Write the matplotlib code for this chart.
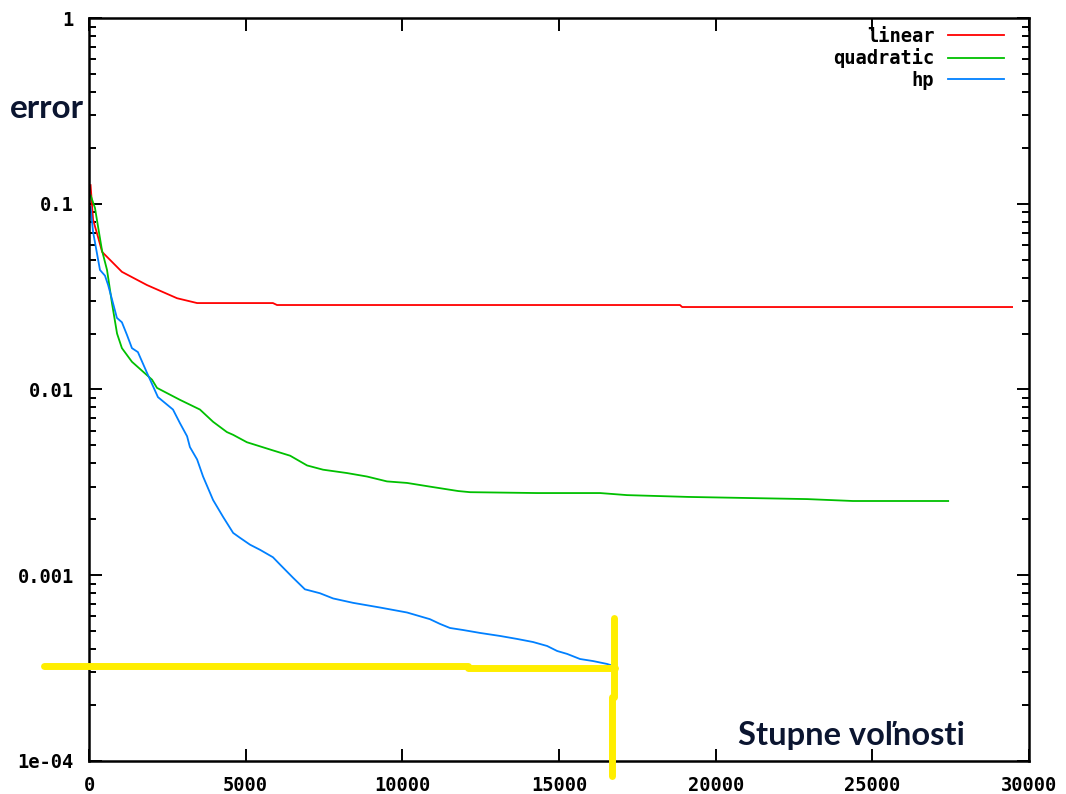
import matplotlib
matplotlib.use('Agg')
import matplotlib.pyplot as plt
from matplotlib.ticker import LogLocator, NullFormatter

# data
linear_x = [50, 130, 290, 420, 1050, 1850, 2810, 3450, 5870, 6000, 18860, 18930, 29460]
linear_y = [0.126, 0.082, 0.066, 0.055, 0.043, 0.0365, 0.031, 0.0292, 0.0292, 0.0285,
            0.0285, 0.0278, 0.0278]

quad_x = [50, 190, 290, 415, 575, 735, 895, 1050, 1370, 2010, 2170, 2900, 3540, 3960,
          4400, 4600, 5040, 5870, 6420, 6960, 7470, 8230, 8870, 9510, 10150, 10880,
          11780, 12160, 14300, 16310, 17170, 19120, 22920, 24380, 27420]
quad_y = [0.111, 0.095, 0.075, 0.056, 0.044, 0.029, 0.020, 0.0167, 0.0141, 0.0113,
          0.0102, 0.0088, 0.0078, 0.0067, 0.0059, 0.0057, 0.0052, 0.0047, 0.0044,
          0.0039, 0.0037, 0.00355, 0.0034, 0.0032, 0.00314, 0.0030, 0.00284, 0.0028,
          0.00277, 0.00277, 0.0027, 0.00264, 0.00257, 0.00251, 0.00251]

hp_x = [50, 130, 350, 510, 610, 770, 890, 1050, 1210, 1370, 1560, 1850, 2200, 2680,
        2900, 3130, 3220, 3450, 3640, 3960, 4280, 4600, 4820, 5140, 5460, 5870, 6100,
        6510, 6890, 7370, 7790, 8430, 9290, 10150, 10880, 11200, 11520, 11940, 12480,
        13120, 13660, 14170, 14620, 14940, 15260, 15670, 16090, 16530, 16630]
hp_y = [0.096, 0.0705, 0.044, 0.041, 0.0365, 0.029, 0.0243, 0.023, 0.0197, 0.0167,
        0.0159, 0.0123, 0.0091, 0.0078, 0.0066, 0.0056, 0.0049, 0.0042, 0.0034,
        0.00254, 0.00206, 0.00169, 0.00159, 0.00146, 0.00137, 0.00125, 0.00114,
        0.00097, 0.00084, 0.0008, 0.00075, 0.00071, 0.00067, 0.00063, 0.00058,
        0.000547, 0.00052, 0.000507, 0.000489, 0.000471, 0.000454, 0.000437,
        0.000416, 0.000391, 0.000377, 0.000354, 0.000345, 0.000333, 0.000329]

x_ticks = [0, 5000, 10000, 15000, 20000, 25000, 30000]
x_labels = ['0', '5000', '10000', '15000', '20000', '25000', '30000']
y_ticks = [1e-4, 1e-3, 1e-2, 1e-1, 1]
y_labels = ['1e-04', '0.001', '0.01', '0.1', '1']

# hand drawn yellow marks
mark_h1_x = [-1440, 12100]
mark_h1_y = [0.000324, 0.000324]
mark_h2_x = [12100, 16790]
mark_h2_y = [0.000316, 0.000316]
mark_v1_x = [16740, 16740]
mark_v1_y = [0.00059, 0.00022]
mark_v2_x = [16680, 16680]
mark_v2_y = [0.00022, 0.000083]

MONO = 'DejaVu Sans Mono'
YELLOW = '#ffee00'
FS = 13.5


def plot_chart():
    fig = plt.figure(figsize=(10.66, 7.94), dpi=100)
    ax = fig.add_axes([0.0835, 0.0416, 0.8818, 0.9357])

    ax.plot(linear_x, linear_y, color='#ff0000', lw=1.3, label='linear')
    ax.plot(quad_x, quad_y, color='#00c000', lw=1.3, label='quadratic')
    ax.plot(hp_x, hp_y, color='#0080ff', lw=1.3, label='hp')

    for xs, ys in [(mark_h1_x, mark_h1_y), (mark_h2_x, mark_h2_y),
                   (mark_v1_x, mark_v1_y), (mark_v2_x, mark_v2_y)]:
        ax.plot(xs, ys, color=YELLOW, lw=5, solid_capstyle='round',
                clip_on=False, zorder=5)

    ax.set_yscale('log')
    ax.set_xlim(0, 30000)
    ax.set_ylim(1e-4, 1)

    ax.set_xticks(x_ticks)
    ax.set_xticklabels(x_labels, fontfamily=MONO, fontweight='bold', fontsize=FS)
    ax.set_yticks(y_ticks)
    ax.set_yticklabels(y_labels, fontfamily=MONO, fontweight='bold', fontsize=FS)
    ax.yaxis.set_minor_locator(LogLocator(base=10, subs=range(2, 10)))
    ax.yaxis.set_minor_formatter(NullFormatter())

    ax.tick_params(which='both', direction='in', top=True, right=True, width=1.4)
    ax.tick_params(which='major', length=9)
    ax.tick_params(which='minor', length=5)
    ax.tick_params(axis='y', pad=11)
    ax.tick_params(axis='x', pad=11)
    for sp in ax.spines.values():
        sp.set_linewidth(1.8)

    ax.legend(loc='upper right', bbox_to_anchor=(0.985, 1.003), frameon=False,
              markerfirst=False, handlelength=2.95, handletextpad=0.75,
              labelspacing=0.12, borderaxespad=0.2,
              prop={'family': MONO, 'weight': 'bold', 'size': FS})

    fig.text(0.009, 0.863, 'error', fontfamily='Lato', fontweight='bold',
             fontsize=24, color='#0b1530', va='center', ha='left')
    fig.text(0.692, 0.074, 'Stupne voľnosti', fontfamily='Lato', fontweight='bold',
             fontsize=23.5, color='#0b1530', va='center', ha='left')

    fig.savefig('out.png', dpi=100)


def main():
    plot_chart()


if __name__ == "__main__":
    main()
